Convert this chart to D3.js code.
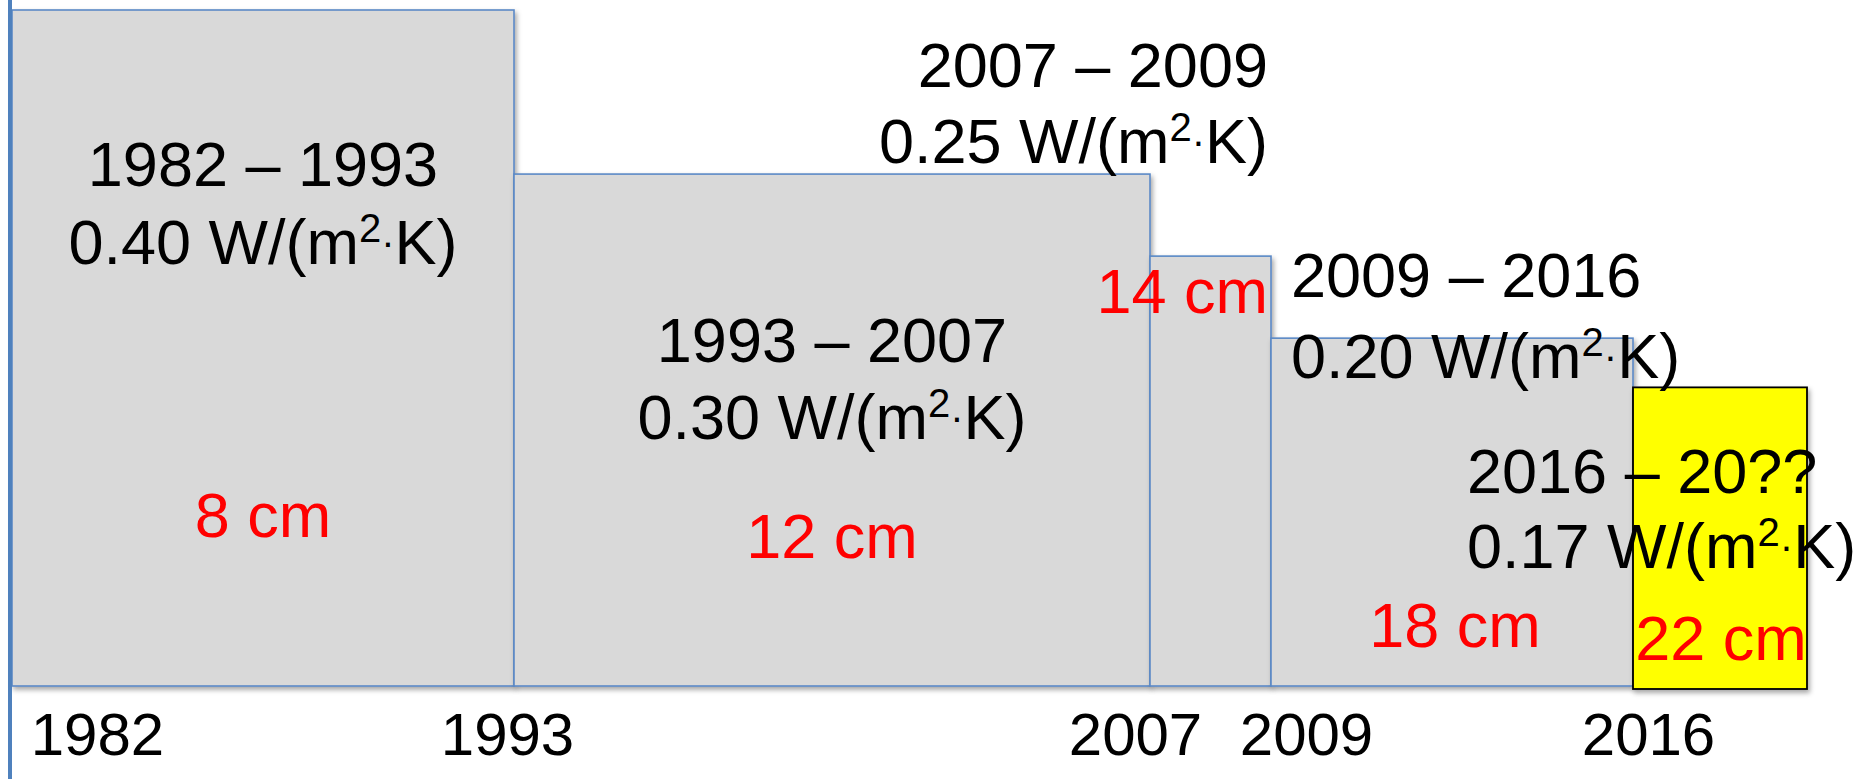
<!DOCTYPE html>
<html>
<head>
<meta charset="utf-8">
<script src="https://cdn.jsdelivr.net/npm/d3@7"></script>
<style>
  html, body { margin: 0; padding: 0; background: #fff; }
  svg { display: block; font-family: "Liberation Sans", Arial, sans-serif; }
</style>
</head>
<body>
<svg id="chart" width="1862" height="779"></svg>
<script>
// ---- data ----
const startYears = [1982, 1993, 2007, 2009, 2016];
const endYears   = [1993, 2007, 2009, 2016, 2020];
const periodLabels = ["1982 – 1993", "1993 – 2007", "2007 – 2009", "2009 – 2016", "2016 – 20??"];
const uValues = [0.40, 0.30, 0.25, 0.20, 0.17];
const uText = ["0.40", "0.30", "0.25", "0.20", "0.17"];
const thickness = ["8 cm", "12 cm", "14 cm", "18 cm", "22 cm"];
const highlight = [false, false, false, false, true];
const tickYears = [1982, 1993, 2007, 2009, 2016];

// ---- layout (positions / styles only) ----
const W = 1862, H = 779, baseY = 686;
const xDomain = [1982, 1993, 2007, 2009, 2016, 2020];
const xRange  = [12, 514, 1150, 1271, 1633, 1807];
const tickDx  = [85, -7, -15, 35, 15];
const labelLayout = [
  {anchor: "middle", dx: 0,    y1: 186, y2: 264},
  {anchor: "middle", dx: 0,    y1: 362, y2: 439},
  {anchor: "end",    dx: -3,   y1: 87,  y2: 163},
  {anchor: "start",  dx: 20,   y1: 297, y2: 378},
  {anchor: "start",  dx: -166, y1: 493, y2: 568}
];
const cmLayout = [
  {anchor: "middle", dx: 0,  y: 537},
  {anchor: "middle", dx: 0,  y: 558},
  {anchor: "end",    dx: -3, y: 313},
  {anchor: "middle", dx: 3,  y: 647},
  {anchor: "middle", dx: 1,  y: 660}
];

const x = d3.scaleLinear().domain(xDomain).range(xRange);
const y = d3.scaleLinear().domain([-0.012, 0.4]).range([baseY, 10]);

const svg = d3.select("#chart");
const defs = svg.append("defs");
const f1 = defs.append("filter").attr("id", "shadow").attr("x", "-10%").attr("y", "-10%").attr("width", "130%").attr("height", "130%");
f1.append("feDropShadow").attr("dx", 2).attr("dy", 3).attr("stdDeviation", 2.5).attr("flood-color", "#000").attr("flood-opacity", 0.35);
const f2 = defs.append("filter").attr("id", "lshadow").attr("x", "-5%").attr("y", "-200%").attr("width", "110%").attr("height", "500%");
f2.append("feDropShadow").attr("dx", 0).attr("dy", 3).attr("stdDeviation", 2).attr("flood-color", "#000").attr("flood-opacity", 0.4);

const bars = startYears.map((s, i) => ({
  s, e: endYears[i], u: uValues[i], hl: highlight[i], i
}));

// grey bars
svg.append("g").selectAll("rect")
  .data(bars.filter(d => !d.hl))
  .join("rect")
  .attr("x", d => x(d.s))
  .attr("y", d => y(d.u))
  .attr("width", d => x(d.e) - x(d.s))
  .attr("height", d => baseY - y(d.u))
  .attr("fill", "#d9d9d9")
  .attr("stroke", "#5a89c6")
  .attr("stroke-width", 1.6)
  .attr("filter", "url(#shadow)");

// horizontal axis line
svg.append("line")
  .attr("x1", 0).attr("x2", W)
  .attr("y1", baseY).attr("y2", baseY)
  .attr("stroke", "#4f81bd")
  .attr("stroke-width", 3.5)
  .attr("stroke-dasharray", "40 13")
  .attr("filter", "url(#lshadow)");

// vertical axis line
svg.append("line")
  .attr("x1", 10).attr("x2", 10)
  .attr("y1", 0).attr("y2", H)
  .attr("stroke", "#4f81bd")
  .attr("stroke-width", 4);

// highlighted bar
svg.append("g").selectAll("rect")
  .data(bars.filter(d => d.hl))
  .join("rect")
  .attr("x", d => x(d.s))
  .attr("y", d => y(d.u))
  .attr("width", d => x(d.e) - x(d.s))
  .attr("height", d => baseY - y(d.u) + 3)
  .attr("fill", "#ffff00")
  .attr("stroke", "#000")
  .attr("stroke-width", 1.8)
  .attr("filter", "url(#shadow)");

// x axis labels
const axis = d3.axisBottom(x).tickValues(tickYears).tickFormat(d3.format("d")).tickSize(0).tickPadding(0);
const gAxis = svg.append("g").attr("transform", `translate(0,${baseY})`).call(axis);
gAxis.select(".domain").remove();
gAxis.selectAll(".tick text")
  .attr("font-family", '"Liberation Sans", Arial, sans-serif')
  .attr("font-size", 60)
  .attr("fill", "#000")
  .attr("dy", null)
  .attr("y", 69)
  .attr("dx", (d, i) => tickDx[i]);

function anchorX(d, lay) {
  if (lay.anchor === "middle") return (x(d.s) + x(d.e)) / 2 + lay.dx;
  if (lay.anchor === "end") return x(d.e) + lay.dx;
  return x(d.s) + lay.dx;
}

// period / U-value labels
const lab = svg.append("g").attr("font-size", 63).attr("fill", "#000");
bars.forEach((d, i) => {
  const lay = labelLayout[i];
  const ax = anchorX(d, lay);
  lab.append("text").attr("text-anchor", lay.anchor).attr("x", ax).attr("y", lay.y1).text(periodLabels[i]);
  const t = lab.append("text").attr("text-anchor", lay.anchor).attr("x", ax).attr("y", lay.y2);
  t.append("tspan").text(uText[i] + " W/(m");
  t.append("tspan").attr("font-size", 40).attr("dy", -22).text("2");
  t.append("tspan").attr("font-size", 40).attr("dy", 14).text("·");
  t.append("tspan").attr("dy", 8).text("K)");
});

// thickness labels
svg.append("g").attr("font-size", 63).attr("fill", "#ff0000")
  .selectAll("text")
  .data(bars)
  .join("text")
  .attr("text-anchor", (d, i) => cmLayout[i].anchor)
  .attr("x", (d, i) => anchorX(d, cmLayout[i]))
  .attr("y", (d, i) => cmLayout[i].y)
  .text((d, i) => thickness[i]);
</script>
</body>
</html>
